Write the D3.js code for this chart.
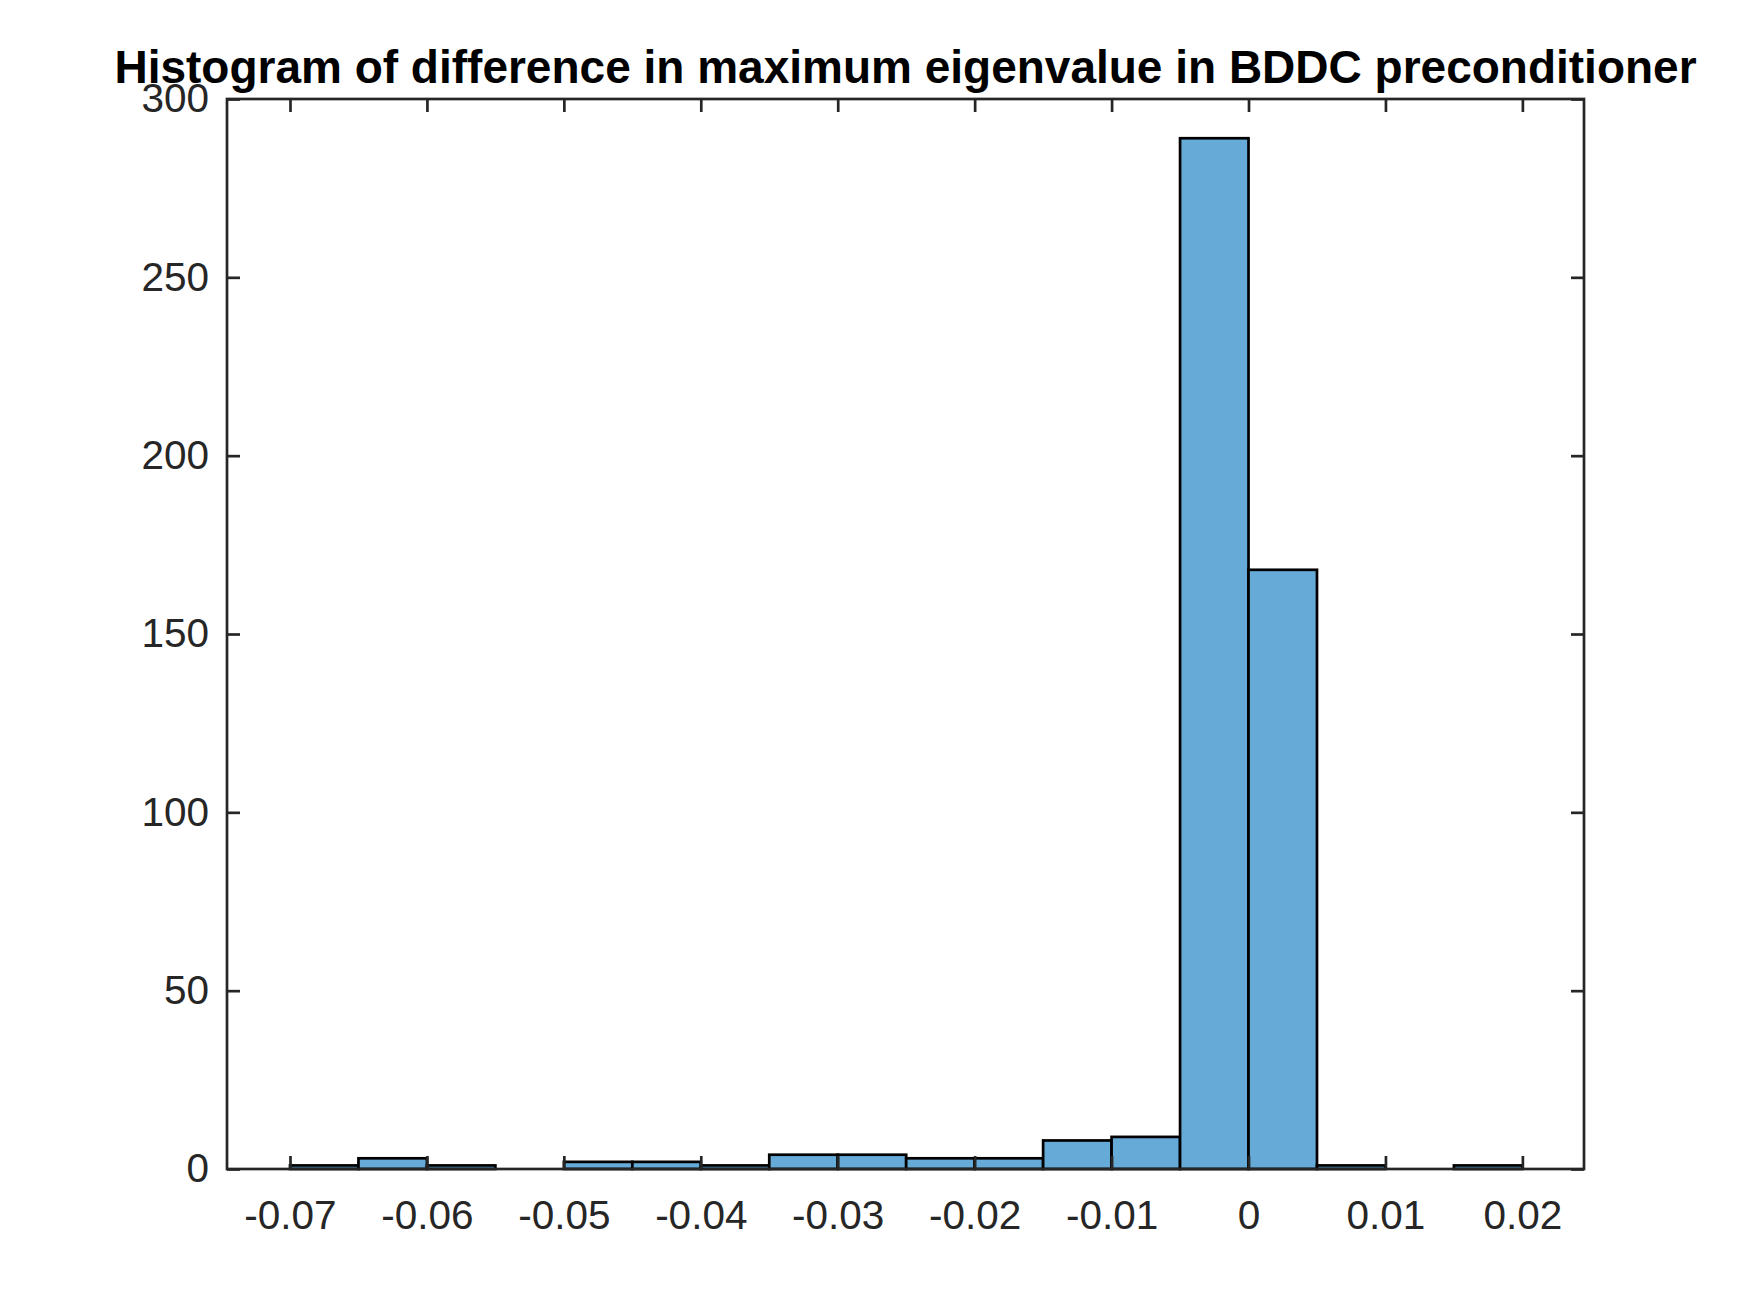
<!DOCTYPE html>
<head>
  <meta charset="utf-8">
  <style>
    body { margin: 0; background: #fff; }
    svg text { font-family: "Liberation Sans", Arial, sans-serif; }
    .tick-label { font-size: 40.5px; fill: #262626; }
    .title { font-size: 46px; font-weight: bold; fill: #000; }
  </style>
</head>
<body>
<script src="https://d3js.org/d3.v7.min.js"></script>
<script>
// histogram bins (width 0.005) and counts
var binStart = -0.07, binWidth = 0.005;
var counts = [1, 3, 1, 0, 2, 2, 1, 4, 4, 3, 3, 8, 9, 289, 168, 1, 0, 1];
var xTicks = [-0.07, -0.06, -0.05, -0.04, -0.03, -0.02, -0.01, 0, 0.01, 0.02];
var yTicks = [0, 50, 100, 150, 200, 250, 300];
var xDomain = [-0.0746, 0.0245];
var yDomain = [0, 300];
var title = "Histogram of difference in maximum eigenvalue in BDDC preconditioner";

var W = 1750, H = 1313;
var box = { left: 227, right: 1584, top: 99, bottom: 1169 };
var tickLen = 13;

var svg = d3.select("body").append("svg")
    .attr("width", W)
    .attr("height", H);

var x = d3.scaleLinear().domain(xDomain).range([box.left, box.right]);
var y = d3.scaleLinear().domain(yDomain).range([box.bottom, box.top]);

var bins = counts.map(function (c, i) {
  return { x0: binStart + i * binWidth, x1: binStart + (i + 1) * binWidth, n: c };
});

// bars
svg.append("g").selectAll("rect")
  .data(bins.filter(function (d) { return d.n > 0; }))
  .enter().append("rect")
    .attr("x", function (d) { return x(d.x0); })
    .attr("width", function (d) { return x(d.x1) - x(d.x0); })
    .attr("y", function (d) { return y(d.n); })
    .attr("height", function (d) { return y(0) - y(d.n); })
    .style("fill", "#66AAD7")
    .style("stroke", "#000")
    .style("stroke-width", "2.7px");

// axes: MATLAB style box, ticks pointing inward on all four sides
var axB = d3.axisBottom(x).tickValues(xTicks).tickSize(-tickLen).tickSizeOuter(0)
    .tickPadding(31).tickFormat(function (d) { return d === 0 ? "0" : String(+d.toFixed(2)); });
var axT = d3.axisTop(x).tickValues(xTicks).tickSize(-tickLen).tickSizeOuter(0).tickFormat("");
var axL = d3.axisLeft(y).tickValues(yTicks).tickSize(-tickLen).tickSizeOuter(0)
    .tickPadding(18).tickFormat(d3.format("d"));
var axR = d3.axisRight(y).tickValues(yTicks).tickSize(-tickLen).tickSizeOuter(0).tickFormat("");

function styleAxis(g) {
  g.selectAll(".domain").remove();
  g.selectAll(".tick line").style("stroke", "#262626").style("stroke-width", "2.7px");
  g.selectAll(".tick text").attr("class", "tick-label").attr("font-size", null).attr("font-family", null);
}

svg.append("g").attr("transform", "translate(0," + box.bottom + ")").call(axB).call(styleAxis)
  .selectAll(".tick text").attr("dy", "0.71em");
svg.append("g").attr("transform", "translate(0," + box.top + ")").call(axT).call(styleAxis);
svg.append("g").attr("transform", "translate(" + box.left + ",0)").call(axL).call(styleAxis);
svg.append("g").attr("transform", "translate(" + box.right + ",0)").call(axR).call(styleAxis);

// frame
svg.append("rect")
    .attr("x", box.left).attr("y", box.top)
    .attr("width", box.right - box.left).attr("height", box.bottom - box.top)
    .style("fill", "none")
    .style("stroke", "#262626")
    .style("stroke-width", "2.7px");

svg.append("text")
    .attr("class", "title")
    .attr("x", (box.left + box.right) / 2)
    .attr("y", 83)
    .attr("text-anchor", "middle")
    .text(title);
</script>
</body>
</html>
